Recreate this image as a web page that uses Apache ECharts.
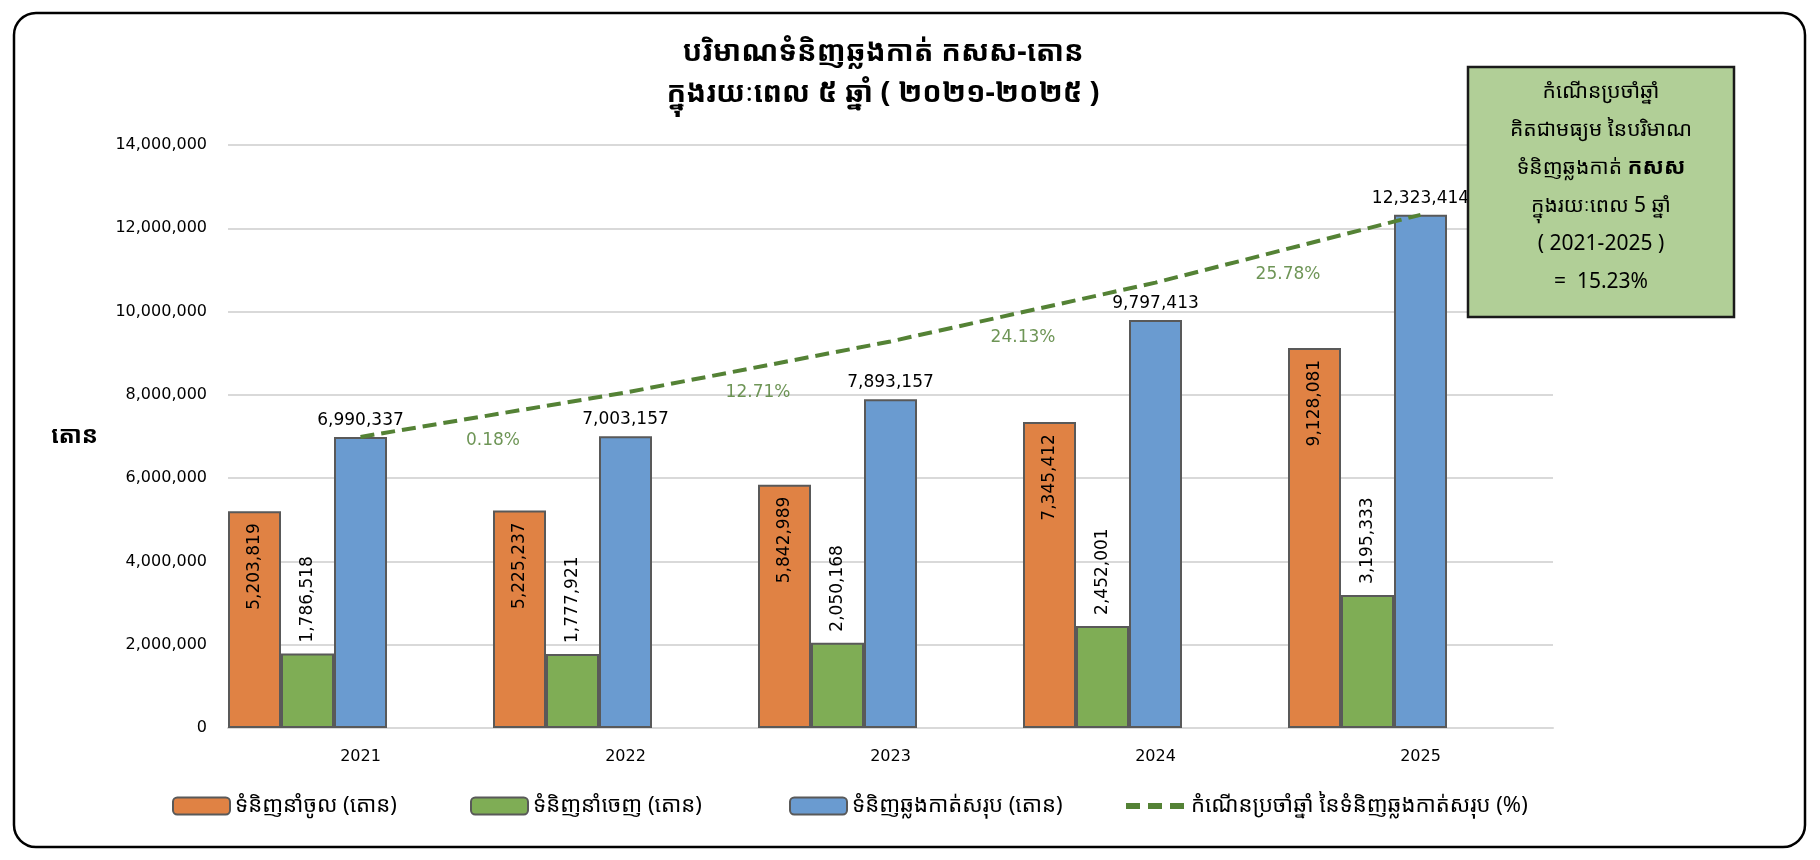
<!DOCTYPE html>
<html>
<head>
<meta charset="utf-8">
<title>បរិមាណទំនិញឆ្លងកាត់ កសស</title>
<script src="https://cdn.jsdelivr.net/npm/echarts@6/dist/echarts.min.js"></script>
<style>html,body{margin:0;padding:0;background:#fff;}</style>
</head>
<body>
<div id="main" style="width:1820px;height:860px"></div>
<script>
var years = ['2021', '2022', '2023', '2024', '2025'];
var imports = [5203819, 5225237, 5842989, 7345412, 9128081];
var exportsT = [1786518, 1777921, 2050168, 2452001, 3195333];
var totals = [6990337, 7003157, 7893157, 9797413, 12323414];
// dashed curve: average growth path
var trend = [6990337, 8055000, 9282000, 10695000, 12323414];
var growth = ['0.18%', '12.71%', '24.13%', '25.78%'];

var nameImp = 'ទំនិញនាំចូល (តោន)';
var nameExp = 'ទំនិញនាំចេញ (តោន)';
var nameTot = 'ទំនិញឆ្លងកាត់សរុប (តោន)';
var nameGr = 'កំណើនប្រចាំឆ្នាំ នៃទំនិញឆ្លងកាត់សរុប (%)';

var numFont = "'DejaVu Sans', sans-serif";
var khFont = "'Noto Sans Khmer', 'Khmer OS', 'Noto Sans', sans-serif";
var fmt = function (v) { return Number(v).toLocaleString('en-US'); };
var blank = years.map(function () { return '-'; });

var myChart = echarts.init(document.getElementById('main'));

var barStyle = function (c) {
	return { color: c, borderColor: '#595959', borderWidth: 2 };
};
var valLabel = function (p) { return fmt(p.value); };

var option = {
	backgroundColor: '#fff',
	animation: false,
	grid: { left: 228, right: 267, top: 145, bottom: 132, containLabel: false },
	legend: [
		{ data: [nameImp], left: 172 },
		{ data: [nameExp], left: 470 },
		{ data: [nameTot], left: 789 },
		{
			data: [nameGr], left: 1123, itemWidth: 60,
			itemStyle: { opacity: 0 },
			lineStyle: { width: 6, type: [14, 8] }
		}
	].map(function (l) {
		l.top = 795;
		l.padding = 0;
		l.itemWidth = l.itemWidth || 57;
		l.itemHeight = 17;
		l.textStyle = { fontFamily: khFont, fontSize: 22, color: '#000' };
		l.selectedMode = false;
		return l;
	}),
	xAxis: [
		{
			type: 'category',
			data: years,
			axisTick: { show: false },
			axisLine: { lineStyle: { color: '#d9d9d9', width: 2 } },
			axisLabel: { fontFamily: numFont, fontSize: 16, color: '#000', margin: 21 }
		},
		{ type: 'value', min: 0, max: 5, show: false }
	],
	yAxis: {
		type: 'value',
		min: 0,
		max: 14000000,
		interval: 2000000,
		name: 'តោន',
		nameLocation: 'middle',
		nameRotate: 0,
		nameGap: 130,
		nameTextStyle: { fontFamily: khFont, fontSize: 24, fontWeight: 'bold', color: '#000' },
		axisLine: { show: false },
		axisTick: { show: false },
		splitLine: { lineStyle: { color: '#d9d9d9', width: 2 } },
		axisLabel: { fontFamily: numFont, fontSize: 16, color: '#000', margin: 21, formatter: fmt }
	},
	series: [
		{
			name: nameImp, type: 'bar', data: imports,
			barGap: '0%', barCategoryGap: '0%',
			itemStyle: barStyle('#e08244'),
			label: {
				show: true, position: 'insideTop', rotate: 90, align: 'right', verticalAlign: 'middle',
				distance: 12, fontFamily: numFont, fontSize: 17, color: '#000', formatter: valLabel
			}
		},
		{
			name: nameExp, type: 'bar', data: exportsT,
			barGap: '0%', barCategoryGap: '0%',
			itemStyle: barStyle('#7fad55'),
			label: {
				show: true, position: 'top', rotate: 90, align: 'left', verticalAlign: 'middle',
				distance: 11, fontFamily: numFont, fontSize: 17, color: '#000', formatter: valLabel
			}
		},
		{
			name: nameTot, type: 'bar', data: totals,
			barGap: '0%', barCategoryGap: '0%',
			itemStyle: barStyle('#6a9bd0'),
			label: {
				show: true, position: 'top', distance: 8,
				fontFamily: numFont, fontSize: 17, color: '#000', formatter: valLabel
			}
		},
		// two empty slots so the total bar sits at the middle of each year
		{ name: 'slot4', type: 'bar', data: blank, barGap: '0%', barCategoryGap: '0%' },
		{ name: 'slot5', type: 'bar', data: blank, barGap: '0%', barCategoryGap: '0%' },
		{
			name: nameGr, type: 'line', data: trend,
			symbol: 'none', z: 5,
			itemStyle: { color: '#548235' },
			lineStyle: { color: '#548235', width: 4, type: [14, 7] }
		},
		{
			name: 'growthLabels', type: 'scatter', xAxisIndex: 1,
			symbolSize: 0,
			data: growth.map(function (g, i) { return [i + 1, (trend[i] + trend[i + 1]) / 2, g]; }),
			label: {
				show: true, position: 'bottom', distance: 17,
				fontFamily: numFont, fontSize: 17, color: '#4a7a2c',
				formatter: function (p) { return p.value[2]; }
			}
		}
	],
	graphic: [
		{
			type: 'rect', z: -10, silent: true,
			shape: { x: 14, y: 13, width: 1791, height: 834, r: 22 },
			style: { fill: 'none', stroke: '#000', lineWidth: 2.5 }
		},
		{
			type: 'text', x: 883, y: 73, silent: true,
			style: {
				text: 'បរិមាណទំនិញឆ្លងកាត់ កសស-តោន\nក្នុងរយៈពេល ៥ ឆ្នាំ ( ២០២១-២០២៥ )',
				font: "bold 29px 'Noto Sans Khmer', 'Noto Sans', sans-serif",
				fill: '#000', align: 'center', verticalAlign: 'middle', lineHeight: 41
			}
		},
		{
			type: 'rect', silent: true, z: 100,
			shape: { x: 1468, y: 67, width: 266, height: 250 },
			style: { fill: '#b1cf97', stroke: '#1a1a1a', lineWidth: 2.5 }
		},
		{
			type: 'text', x: 1601, y: 73, silent: true, z: 101,
			style: {
				text: 'កំណើនប្រចាំឆ្នាំ\nគិតជាមធ្យម នៃបរិមាណ\nទំនិញឆ្លងកាត់ {b|កសស}\nក្នុងរយៈពេល 5 ឆ្នាំ\n( 2021-2025 )\n=  15.23%',
				fontFamily: khFont, fontSize: 21, fill: '#000',
				align: 'center', verticalAlign: 'top', lineHeight: 38,
				rich: { b: { fontFamily: khFont, fontSize: 22, fontWeight: 'bold', lineHeight: 38 } }
			}
		}
	]
};

myChart.setOption(option);
</script>
</body>
</html>
